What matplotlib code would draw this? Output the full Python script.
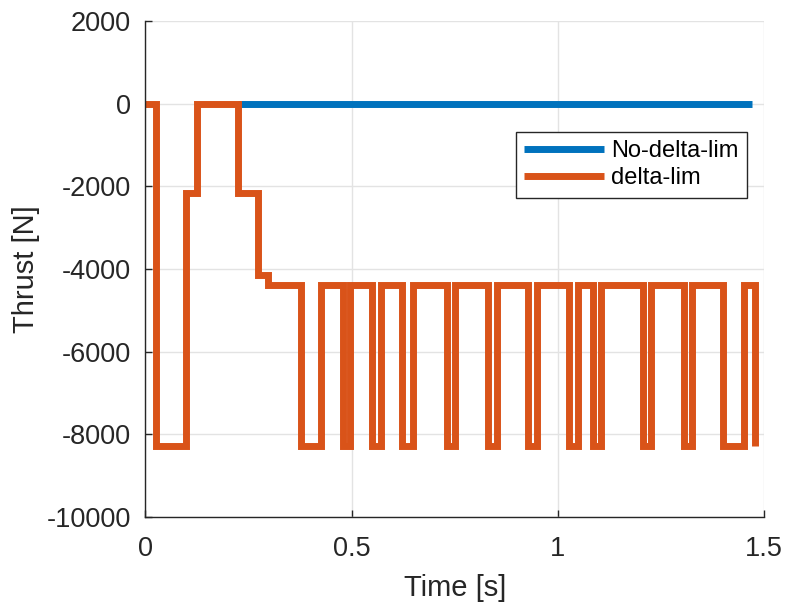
import numpy as np
import matplotlib.pyplot as plt

plt.rcParams['font.family'] = ['Liberation Sans', 'DejaVu Sans']
plt.rcParams['axes.unicode_minus'] = False

# thrust command without delta limit (stays at zero)
t_nolim = [0.225, 1.47]
f_nolim = [0.0, 0.0]

# thrust command with delta limit, step changes (time [s], level [N])
t_lim = [0.0, 0.025, 0.098, 0.124, 0.225, 0.273, 0.298, 0.376, 0.4245,
         0.478, 0.497, 0.5505, 0.570, 0.623, 0.649, 0.730, 0.750, 0.8306,
         0.8524, 0.9276, 0.949, 1.027, 1.049, 1.085, 1.105, 1.206, 1.227,
         1.307, 1.326, 1.400, 1.4526, 1.477]
f_lim = [0, -8280, -2170, 0, -2170, -4145, -4390, -8280, -4390,
         -8280, -4390, -8280, -4390, -8280, -4390, -8280, -4390, -8280,
         -4390, -8280, -4390, -8280, -4390, -8280, -4390, -8280, -4390,
         -8280, -4390, -8280, -4390, -8280]

xticks = [0, 0.5, 1, 1.5]
xticklabels = ['0', '0.5', '1', '1.5']
yticks = [2000, 0, -2000, -4000, -6000, -8000, -10000]

dark = '#262626'

fig = plt.figure(figsize=(7.88, 6.07), dpi=100)
ax = fig.add_axes([0.1846, 0.1483, 0.7850, 0.8171])

ax.plot(t_nolim, f_nolim, color='#0072BD', lw=5, solid_capstyle='butt',
        label='No-delta-lim')
ax.plot(t_lim, f_lim, color='#D95319', lw=5, drawstyle='steps-post',
        solid_capstyle='butt', solid_joinstyle='miter', label='delta-lim')

ax.set_xlim(0, 1.5)
ax.set_ylim(-10000, 2000)
ax.set_xticks(xticks)
ax.set_xticklabels(xticklabels)
ax.set_yticks(yticks)
ax.set_yticklabels([str(v) for v in yticks])

ax.grid(True, color='#e3e3e3', lw=1)
ax.set_axisbelow(True)
for s in ['top', 'right']:
    ax.spines[s].set_visible(False)
for s in ['left', 'bottom']:
    ax.spines[s].set_color(dark)
    ax.spines[s].set_linewidth(1.0)

ax.tick_params(direction='in', length=5, width=1, colors=dark,
               labelsize=19.5)
ax.tick_params(axis='x', pad=14)
ax.tick_params(axis='y', pad=10.5)
ax.set_xlabel('Time [s]', fontsize=21, color=dark, labelpad=8)
ax.set_ylabel('Thrust [N]', fontsize=21, color=dark, labelpad=5)

leg = ax.legend(loc='upper left', bbox_to_anchor=(0.6545, 0.7825),
                bbox_transform=fig.transFigure, fontsize=17, frameon=True,
                fancybox=False, framealpha=1, edgecolor=dark,
                handlelength=3.4, handletextpad=0.3, borderpad=0.35,
                labelspacing=0.22, borderaxespad=0)
leg.get_frame().set_linewidth(1.0)

fig.savefig('out.png', dpi=100)
